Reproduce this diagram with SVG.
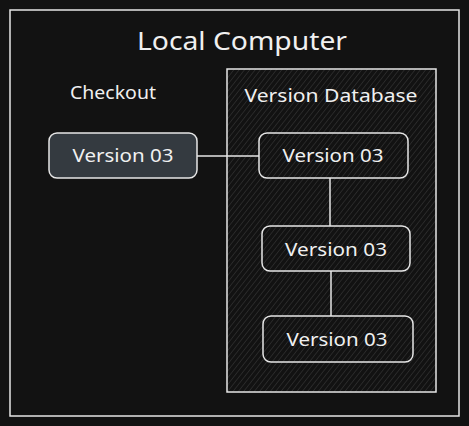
<svg xmlns="http://www.w3.org/2000/svg" width="469" height="426" viewBox="0 0 469 426">
<defs>
<pattern id="hatch" patternUnits="userSpaceOnUse" width="4.2" height="4.2" patternTransform="rotate(38)">
<line x1="0" y1="0" x2="0" y2="4.2" stroke="#3c3c3c" stroke-width="1"/>
</pattern>
</defs>
<style>
.frame{fill:none;stroke:#e6e6e6;stroke-width:1.5}
.box{stroke:#e6e6e6;stroke-width:1.5}
.lbl{font-family:"Noto Sans","Liberation Sans",sans-serif;fill:#f0f0f0}
.conn{stroke:#e6e6e6;stroke-width:1.5;fill:none}
</style>
<rect x="0" y="0" width="469" height="426" fill="#121212"/>
<g id="local-computer">
<rect class="frame" x="10" y="10" width="449" height="406"/>
<text class="lbl" x="242" y="50" font-size="26" text-anchor="middle" textLength="210" lengthAdjust="spacingAndGlyphs">Local Computer</text>
</g>
<g id="checkout-label">
<text class="lbl" x="113" y="99" font-size="18" text-anchor="middle" textLength="86" lengthAdjust="spacingAndGlyphs">Checkout</text>
</g>
<g id="version-database">
<rect x="227" y="69" width="209" height="323" fill="url(#hatch)" stroke="#e6e6e6" stroke-width="1.5"/>
<text class="lbl" x="331" y="102" font-size="18" text-anchor="middle" textLength="173" lengthAdjust="spacingAndGlyphs">Version Database</text>
</g>
<g id="connectors">
<line class="conn" x1="197" y1="156" x2="259" y2="156"/>
<line class="conn" x1="330" y1="178" x2="330" y2="226"/>
<line class="conn" x1="331" y1="271" x2="331" y2="316"/>
</g>
<g id="checkout-version">
<rect class="box" x="49" y="133" width="148" height="45" rx="8" fill="#343a40"/>
<text class="lbl" x="123" y="162" font-size="18" text-anchor="middle" textLength="101" lengthAdjust="spacingAndGlyphs">Version 03</text>
</g>
<g id="db-version-1">
<rect class="box" x="259" y="133" width="149" height="45" rx="8" fill="none"/>
<text class="lbl" x="333" y="162" font-size="18" text-anchor="middle" textLength="101" lengthAdjust="spacingAndGlyphs">Version 03</text>
</g>
<g id="db-version-2">
<rect class="box" x="262" y="226" width="148" height="45" rx="8" fill="none"/>
<text class="lbl" x="336" y="256" font-size="18" text-anchor="middle" textLength="102" lengthAdjust="spacingAndGlyphs">Version 03</text>
</g>
<g id="db-version-3">
<rect class="box" x="263" y="316" width="150" height="46" rx="8" fill="none"/>
<text class="lbl" x="337" y="346" font-size="18" text-anchor="middle" textLength="101" lengthAdjust="spacingAndGlyphs">Version 03</text>
</g>
</svg>
